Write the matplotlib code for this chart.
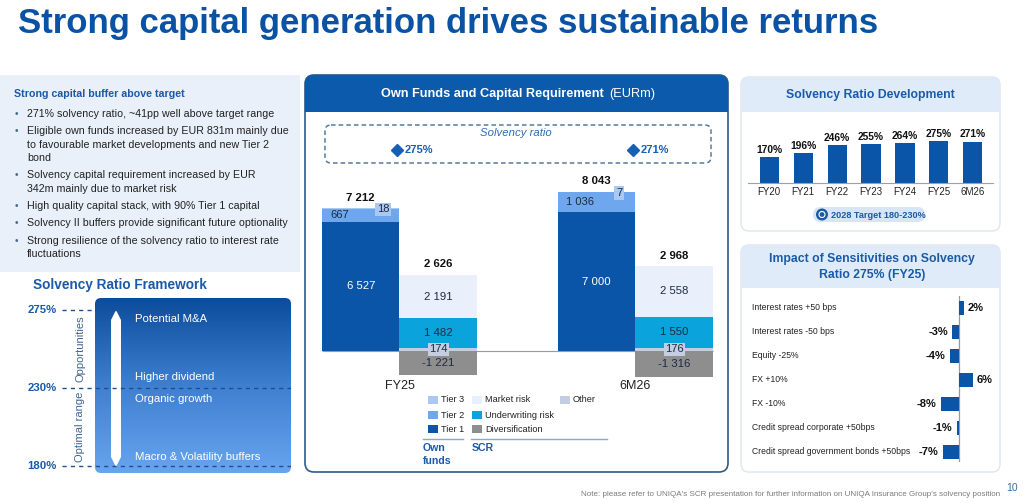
import numpy as np
import matplotlib
matplotlib.use("Agg")
import matplotlib.pyplot as plt
from matplotlib.patches import FancyBboxPatch, Rectangle, Polygon, Circle
from matplotlib.colors import LinearSegmentedColormap
from matplotlib.transforms import blended_transform_factory

plt.rcParams['font.family'] = ['Liberation Sans', 'DejaVu Sans']

W, H = 1024, 503

# ---- data ----
periods = ['FY25', '6M26']
ratio_labels = ['275%', '271%']
tier1 = [6527, 7000]
tier2 = [667, 1036]
tier3 = [18, 7]
own_total = [7212, 8043]
other = [174, 176]
uw_risk = [1482, 1550]
market_risk = [2191, 2558]
diversification = [-1221, -1316]
scr_total = [2626, 2968]

dev_years = ['FY20', 'FY21', 'FY22', 'FY23', 'FY24', 'FY25', '6M26']
dev_ratio = [170, 196, 246, 255, 264, 275, 271]

sens_labels = ['Interest rates +50 bps', 'Interest rates -50 bps', 'Equity -25%',
               'FX +10%', 'FX -10%', 'Credit spread corporate +50bps',
               'Credit spread government bonds +50bps']
sens_values = [2, -3, -4, 6, -8, -1, -7]

fw_levels = ['275%', '230%', '180%']
fw_zones = ['Opportunities', 'Optimal range']
fw_items = ['Potential M&A', 'Higher dividend', 'Organic growth', 'Macro & Volatility buffers']

bullet_head = 'Strong capital buffer above target'
bullets = [
    ['271% solvency ratio, ~41pp well above target range'],
    ['Eligible own funds increased by EUR 831m mainly due',
     'to favourable market developments and new Tier 2', 'bond'],
    ['Solvency capital requirement increased by EUR', '342m mainly due to market risk'],
    ['High quality capital stack, with 90% Tier 1 capital'],
    ['Solvency II buffers provide significant future optionality'],
    ['Strong resilience of the solvency ratio to interest rate', 'fluctuations'],
]

# ---- colours ----
BLUE = '#0a52a3'
DARK = '#0a55a8'
C_T1, C_T2, C_T3 = '#0a55a8', '#6ea7ee', '#a9c9f3'
C_MKT, C_UW, C_DIV, C_OTH = '#e9f0fb', '#0aa3dc', '#8e8e8e', '#c4cde2'


def fmt(v):
    return f'{v:,}'.replace(',', ' ')


fig = plt.figure(figsize=(W / 100, H / 100), dpi=100)
fig.patch.set_facecolor('white')


def px_axes(x0, y0, x1, y1):
    a = fig.add_axes([x0 / W, 1 - y1 / H, (x1 - x0) / W, (y1 - y0) / H])
    a.patch.set_visible(False)
    return a


bg = fig.add_axes([0, 0, 1, 1])
bg.axis('off')

# title
bg.text(18, 23, 'Strong capital generation drives sustainable returns', fontsize=25,
        fontweight='bold', color=BLUE, va='center',
        family=['Liberation Sans Narrow', 'Liberation Sans'])

# ---- left text panel ----
bg.add_patch(Rectangle((0, 75), 300, 197, fc='#e9f0fa', ec='none'))
bg.text(14, 94, bullet_head, fontsize=7.7, fontweight='bold', color='#1a5aa8', va='center')
y = 114
for lines in bullets:
    bg.text(15, y, '•', fontsize=7.2, color='#4a6b94', va='center')
    for ln in lines:
        bg.text(27, y, ln, fontsize=7.7, color='#222222', va='center')
        y += 13.4
    y += 3.9

# ---- solvency ratio framework ----
bg.text(33, 285, 'Solvency Ratio Framework', fontsize=9.8, fontweight='bold', color='#1a5aa8',
        va='center')
box = FancyBboxPatch((95, 298), 196, 175, boxstyle='round,pad=0,rounding_size=6',
                     fc='none', ec='none')
bg.add_patch(box)
cmap = LinearSegmentedColormap.from_list('fw', ['#0c4c9c', '#3f7fd0', '#68a5ef'])
im = bg.imshow(np.linspace(0, 1, 256).reshape(-1, 1), extent=(95, 291, 473, 298),
               cmap=cmap, aspect='auto', zorder=1)
im.set_clip_path(box)
bg.add_patch(Polygon([(111, 320), (116, 310), (121, 320), (121, 457), (116, 467), (111, 457)],
                     closed=True, fc='white', ec='none', zorder=2))

fw = px_axes(62, 298, 291, 473)
fw.set_ylim(2.09, -0.155)
fw.set_xlim(0, 1)
fw.axis('off')
for i, lab in enumerate(fw_levels):
    fw.axhline(i, color='#1f4e8c', lw=1, ls=(0, (3, 3)))
    fw.text(-0.022, i, lab, fontsize=8.2, fontweight='bold', color='#1a5aa8',
            ha='right', va='center')
for i, z in enumerate(fw_zones):
    fw.text(0.079, i + 0.5, z, fontsize=8, color='#3f6591', rotation=90,
            ha='center', va='center')
item_pos = [(0, -9), (1, 11), (1, -11), (2, 9)]
for (lvl, off), it in zip(item_pos, fw_items):
    fw.annotate(it, (0.32, lvl), xytext=(0, off * 0.72), textcoords='offset points',
                fontsize=8.2, color='white', va='center', ha='left')

# ---- middle panel ----
panel = FancyBboxPatch((305, 75), 423, 397, boxstyle='round,pad=0,rounding_size=9',
                       fc='white', ec='#2d5b8e', lw=1.2, zorder=1)
bg.add_patch(panel)
hdr = Rectangle((305, 75), 423, 37, fc='#0b5aab', ec='none', zorder=1.1)
bg.add_patch(hdr)
hdr.set_clip_path(panel)
bg.text(607, 94, 'Own Funds and Capital Requirement ', fontsize=9.2, fontweight='bold',
        color='white', ha='right', va='center', zorder=3)
bg.text(609, 94, '(EURm)', fontsize=9.2, color='white', ha='left', va='center', zorder=3)
bg.add_patch(FancyBboxPatch((325, 125), 386, 38, boxstyle='round,pad=0,rounding_size=6',
                            fc='none', ec='#557aa3', lw=1.1, ls=(0, (3, 2)), zorder=2))
bg.text(516, 133, 'Solvency ratio', fontsize=8.2, style='italic', color='#2e6cb3',
        ha='center', va='center', zorder=3)

ax = px_axes(305, 120, 728, 380)
x = np.arange(len(periods))
bw = 0.328
xo = x - bw / 2
xs = x + bw / 2
ax.bar(xo, tier1, bw, color=C_T1)
ax.bar(xo, tier2, bw, bottom=tier1, color=C_T2)
ax.bar(xo, tier3, bw, bottom=np.add(tier1, tier2), color=C_T3)
ax.bar(xs, other, bw, color=C_OTH)
ax.bar(xs, uw_risk, bw, bottom=other, color=C_UW)
ax.bar(xs, market_risk, bw, bottom=np.add(other, uw_risk), color=C_MKT)
ax.bar(xs, diversification, bw, color=C_DIV)
ax.hlines(0, xo[0] - bw / 2, xs[-1] + bw / 2, color='#9a9a9a', lw=0.8, zorder=0)
ax.set_xlim(-0.4004, 1.392)
ax.set_ylim(-1465, 11667)
for s in ax.spines.values():
    s.set_visible(False)
ax.set_yticks([])
ax.set_xticks(x, periods, fontsize=9, color='#222222')
ax.tick_params(axis='x', length=0, pad=0)

top = blended_transform_factory(ax.transData, ax.transAxes)
for i in range(len(periods)):
    ax.plot(x[i] - 0.01, 0.885, marker='D', ms=6, color='#1560b5', transform=top, clip_on=False)
    ax.text(x[i] + 0.02, 0.885, ratio_labels[i], fontsize=8, fontweight='bold',
            color='#1560b5', va='center', transform=top)
    # own funds labels
    ax.text(xo[i], tier1[i] / 2, fmt(tier1[i]), color='white', fontsize=8.2,
            ha='center', va='center')
    ax.text(xo[i] - bw / 2 + 0.035, tier1[i] + tier2[i] / 2, fmt(tier2[i]), color='#1d2b40',
            fontsize=8, ha='left', va='center')
    ax.text(xo[i] + bw / 2 - 0.07, own_total[i] - 60, fmt(tier3[i]), color='#1d2b40',
            fontsize=8, ha='center', va='center',
            bbox=dict(boxstyle='square,pad=0.15', fc=C_T3, ec='none'))
    ax.annotate(fmt(own_total[i]), (xo[i], own_total[i]), xytext=(0, 4),
                textcoords='offset points', fontsize=8.2, fontweight='bold',
                ha='center', va='bottom', color='#111111')
    # SCR labels
    base_m = other[i] + uw_risk[i]
    ax.text(xs[i], base_m + market_risk[i] / 2, fmt(market_risk[i]), color='#1d2b40',
            fontsize=8.2, ha='center', va='center')
    ax.text(xs[i], other[i] + uw_risk[i] / 2, fmt(uw_risk[i]), color='#1d2b40',
            fontsize=8.2, ha='center', va='center')
    ax.text(xs[i], other[i] / 2, fmt(other[i]), color='#1d2b40', fontsize=8,
            ha='center', va='center',
            bbox=dict(boxstyle='square,pad=0.12', fc=C_OTH, ec='none'))
    ax.text(xs[i], diversification[i] / 2, fmt(diversification[i]), color='#1d2b40',
            fontsize=8.2, ha='center', va='center')
    ax.annotate(fmt(scr_total[i]), (xs[i], base_m + market_risk[i]), xytext=(0, 4),
                textcoords='offset points', fontsize=8.2, fontweight='bold',
                ha='center', va='bottom', color='#111111')

# legend
leg = [((428, 400), C_T3, 'Tier 3'), ((428, 415), C_T2, 'Tier 2'), ((428, 429), C_T1, 'Tier 1'),
       ((472, 400), C_MKT, 'Market risk'), ((472, 415), C_UW, 'Underwriting risk'),
       ((472, 429), C_DIV, 'Diversification'), ((560, 400), C_OTH, 'Other')]
for (lx, ly), c, t in leg:
    bg.add_patch(Rectangle((lx, ly - 4), 10, 8, fc=c, ec='none', zorder=3))
    bg.text(lx + 13, ly, t, fontsize=6.6, color='#222222', va='center', zorder=3)
bg.plot([423, 463], [439, 439], color='#8aa8c8', lw=1, zorder=3)
bg.plot([471, 607], [439, 439], color='#8aa8c8', lw=1, zorder=3)
bg.text(423, 448, 'Own', fontsize=7.6, fontweight='bold', color='#1a5aa8', va='center', zorder=3)
bg.text(423, 461, 'funds', fontsize=7.6, fontweight='bold', color='#1a5aa8', va='center', zorder=3)
bg.text(472, 448, 'SCR', fontsize=7.6, fontweight='bold', color='#1a5aa8', va='center', zorder=3)

# ---- right top panel ----
p2 = FancyBboxPatch((741, 77), 259, 154, boxstyle='round,pad=0,rounding_size=8',
                    fc='white', ec='#dfe5ee', lw=1, zorder=1)
bg.add_patch(p2)
h2 = Rectangle((741, 77), 259, 35, fc='#e0ebf9', ec='none', zorder=1.1)
bg.add_patch(h2)
h2.set_clip_path(p2)
bg.text(870, 95, 'Solvency Ratio Development', fontsize=8.8, fontweight='bold',
        color='#1a5aa8', ha='center', va='center', zorder=3)

ad = px_axes(748, 120, 993, 183)
xd = np.arange(len(dev_years))
ad.bar(xd, dev_ratio, 0.56, color=DARK)
for i, v in enumerate(dev_ratio):
    ad.annotate(f'{v}%', (xd[i], v), xytext=(0, 1.5), textcoords='offset points',
                fontsize=7.4, fontweight='bold', ha='center', va='bottom', color='#111111')
ad.set_xlim(-0.62, 6.59)
ad.set_ylim(0, 412)
for s in ['top', 'right', 'left']:
    ad.spines[s].set_visible(False)
ad.spines['bottom'].set_color('#a0a0a0')
ad.set_yticks([])
ad.set_xticks(xd, dev_years, fontsize=7, color='#222222')
ad.tick_params(axis='x', length=0, pad=3)

bg.add_patch(FancyBboxPatch((813, 207), 112, 15, boxstyle='round,pad=0,rounding_size=7.5',
                            fc='#d8e5f7', ec='none', zorder=2))
bg.add_patch(Circle((822, 214.5), 6, fc='#1a5aa8', ec='none', zorder=3))
bg.add_patch(Circle((822, 214.5), 3, fc='none', ec='white', lw=0.8, zorder=4))
bg.text(831, 215, '2028 Target 180-230%', fontsize=6.6, fontweight='bold', color='#1a5aa8',
        va='center', zorder=4)

# ---- right bottom panel ----
p3 = FancyBboxPatch((741, 245), 259, 227, boxstyle='round,pad=0,rounding_size=8',
                    fc='white', ec='#dfe5ee', lw=1, zorder=1)
bg.add_patch(p3)
h3 = Rectangle((741, 245), 259, 43, fc='#e0ebf9', ec='none', zorder=1.1)
bg.add_patch(h3)
h3.set_clip_path(p3)
bg.text(872, 259, 'Impact of Sensitivities on Solvency', fontsize=8.8, fontweight='bold',
        color='#1a5aa8', ha='center', va='center', zorder=3)
bg.text(872, 275, 'Ratio 275% (FY25)', fontsize=8.8, fontweight='bold',
        color='#1a5aa8', ha='center', va='center', zorder=3)

asn = px_axes(745, 296, 995, 462)
ys = np.arange(len(sens_labels))
asn.barh(ys, sens_values, 0.55, color=DARK)
asn.axvline(0, color='#9a9a9a', lw=0.9, zorder=0)
asn.set_xlim(-93, 15.65)
asn.set_ylim(6.42, -0.5)
asn.axis('off')
lab_tr = blended_transform_factory(asn.transAxes, asn.transData)
for i, (lab, v) in enumerate(zip(sens_labels, sens_values)):
    asn.text(0.028, i, lab, fontsize=6.2, color='#222222', va='center', transform=lab_tr)
    asn.annotate(f'{v}%', (v, i), xytext=(3 if v > 0 else -3, 0), textcoords='offset points',
                 fontsize=8, fontweight='bold', ha='left' if v > 0 else 'right',
                 va='center', color='#111111')

# footnote
bg.text(1000, 494, "Note: please refer to UNIQA's SCR presentation for further information on "
        "UNIQA Insurance Group's solvency position", fontsize=5.75, color='#7a7a7a',
        ha='right', va='center')
bg.text(1012, 488, '10', fontsize=7.5, color='#3a6ea5', ha='center', va='center')

bg.set_xlim(0, W)
bg.set_ylim(H, 0)

fig.savefig('out.png', dpi=100)
